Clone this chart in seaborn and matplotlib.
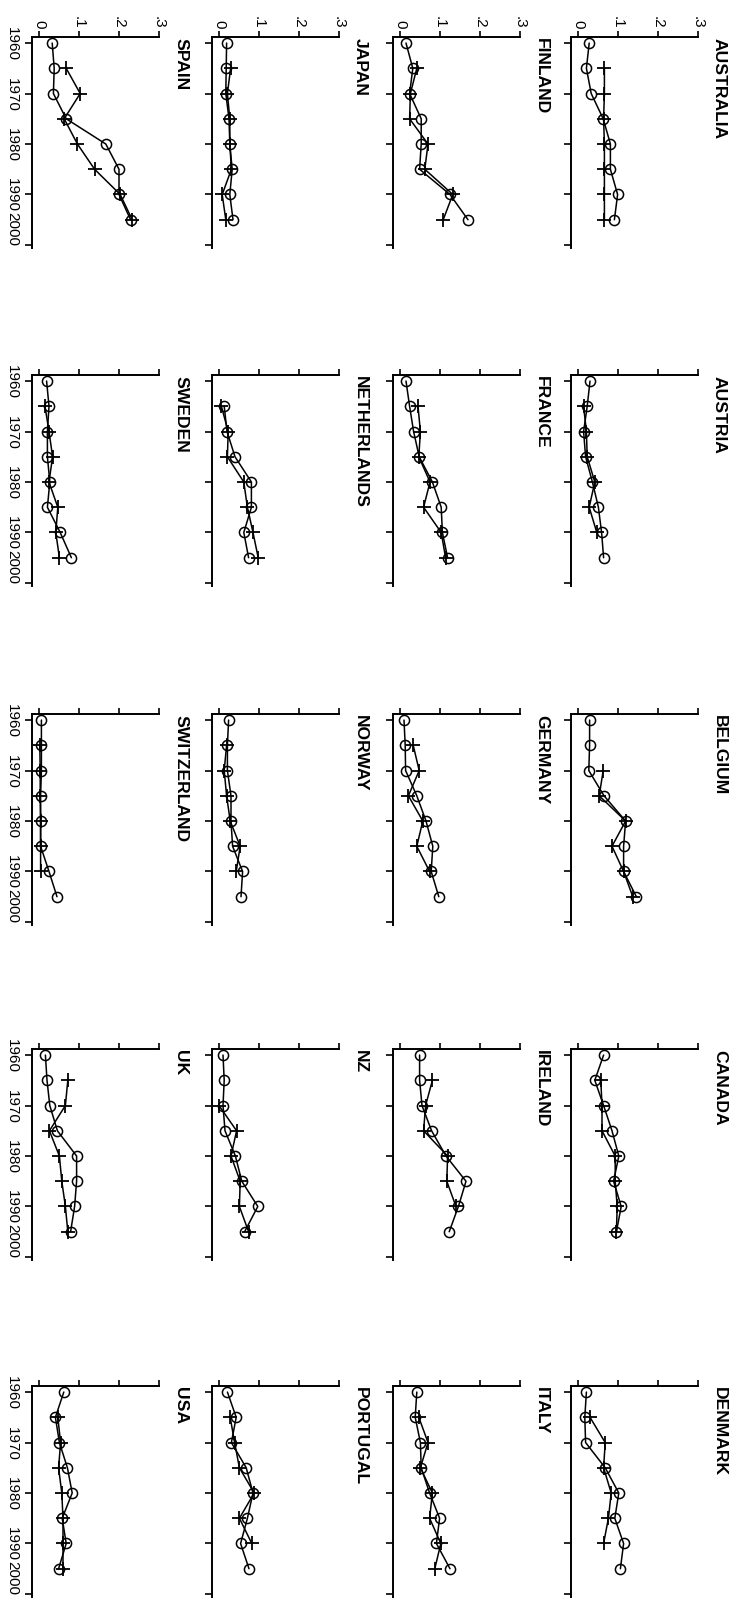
import numpy as np
import pandas as pd
import matplotlib
matplotlib.use("Agg")
import matplotlib.pyplot as plt
import seaborn as sns

# ---------------- data ----------------
countries = ["AUSTRALIA", "AUSTRIA", "BELGIUM", "CANADA", "DENMARK",
             "FINLAND", "FRANCE", "GERMANY", "IRELAND", "ITALY",
             "JAPAN", "NETHERLANDS", "NORWAY", "NZ", "PORTUGAL",
             "SPAIN", "SWEDEN", "SWITZERLAND", "UK", "USA"]

years = [1960, 1965, 1970, 1975, 1980, 1985, 1990, 1995]

circle_series = [
    [.028, .021, .033, .063, .081, .081, .099, .091],   # AUSTRALIA
    [.030, .023, .014, .019, .036, .051, .059, .064],   # AUSTRIA
    [.029, .029, .027, .065, .119, .114, .114, .146],   # BELGIUM
    [.064, .042, .064, .085, .102, .089, .108, .096],   # CANADA
    [.021, .017, .019, .068, .102, .092, .114, .106],   # DENMARK
    [.015, .032, .024, .053, .053, .049, .125, .170],   # FINLAND
    [.015, .024, .034, .048, .081, .103, .106, .119],   # FRANCE
    [.010, .013, .014, .042, .065, .082, .078, .097],   # GERMANY
    [.049, .049, .055, .079, .115, .165, .146, .123],   # IRELAND
    [.042, .038, .051, .053, .074, .099, .091, .125],   # ITALY
    [.019, .018, .017, .025, .027, .033, .027, .035],   # JAPAN
    [None, .013, .020, .040, .081, .081, .062, .074],   # NETHERLANDS
    [.024, .021, .021, .030, .030, .034, .059, .055],   # NORWAY
    [.010, .013, .010, .015, .041, .057, .097, .064],   # NZ
    [.021, .043, .031, .068, .085, .071, .054, .075],   # PORTUGAL
    [.033, .038, .036, .068, .167, .200, .200, .229],   # SPAIN
    [.019, .025, .021, .021, .027, .021, .053, .081],   # SWEDEN
    [.006, .006, .006, .004, .004, .004, .025, .045],   # SWITZERLAND
    [.016, .020, .027, .046, .094, .094, .089, .079],   # UK
    [.062, .041, .051, .071, .083, .058, .068, .049],   # USA
]

plus_series = [
    [None, .066, .066, .064, .066, .066, .066, .066],   # AUSTRALIA
    [None, .014, .021, .023, .042, .028, .047, None],   # AUSTRIA
    [None, None, .063, .053, .119, .085, .114, .137],   # BELGIUM
    [None, .057, .060, .060, .093, .093, .098, .096],   # CANADA
    [None, .030, .068, .064, .083, .076, .064, None],   # DENMARK
    [None, .042, .026, .024, .070, .062, .132, .108],   # FINLAND
    [None, .045, .051, .047, .075, .059, .103, .114],   # FRANCE
    [None, .033, .048, .021, .057, .042, .074, None],   # GERMANY
    [None, .081, .064, .059, .119, .117, .140, None],   # IRELAND
    [None, .047, .070, .051, .081, .074, .102, .087],   # ITALY
    [None, .029, .021, .027, .027, .031, .008, .017],   # JAPAN
    [None, .006, .023, .021, .062, .071, .085, .098],   # NETHERLANDS
    [None, .019, .013, .019, .028, .053, .043, None],   # NORWAY
    [None, None, .000, .044, .030, .053, .051, .074],   # NZ
    [None, .028, .039, .051, .088, .051, .082, None],   # PORTUGAL
    [None, .068, .103, .063, .096, .139, .203, .233],   # SPAIN
    [None, .015, .025, .034, .025, .047, .042, .051],   # SWEDEN
    [None, .002, .003, .003, .004, .004, .004, None],   # SWITZERLAND
    [None, .072, .066, .026, .051, .057, .066, .072],   # UK
    [None, .047, .054, .049, .057, .060, .060, .060],   # USA
]

value_ticks = [0, 0.1, 0.2, 0.3]
value_tick_labels = ["0", ".1", ".2", ".3"]
year_ticks = [1960, 1970, 1980, 1990, 2000]
year_tick_labels = ["1960", "1970", "1980", "1990", "2000"]

# ---------------- style ----------------
sns.set_style("ticks")
plt.rcParams["font.family"] = ["Liberation Sans", "DejaVu Sans"]
plt.rcParams["text.color"] = "black"
plt.rcParams["axes.edgecolor"] = "black"
plt.rcParams["xtick.color"] = "black"
plt.rcParams["ytick.color"] = "black"

W, H = 739, 1606
fig = plt.figure(figsize=(W / 100, H / 100), dpi=100)
fig.patch.set_facecolor("white")

col_left = [32, 212, 393, 571]
row_top = [38, 376, 715, 1050, 1387]
AX_W, AX_H = 127, 211

for i, name in enumerate(countries):
    orow, ocol = divmod(i, 5)
    c = 3 - orow
    r = ocol
    ax = fig.add_axes([col_left[c] / W, 1 - (row_top[r] + AX_H) / H,
                       AX_W / W, AX_H / H])
    ax.set_facecolor("white")

    dfo = pd.DataFrame({"year": years,
                        "value": np.array(circle_series[i], dtype=float)}).dropna()
    dfp = pd.DataFrame({"year": years,
                        "value": np.array(plus_series[i], dtype=float)}).dropna()

    sns.lineplot(data=dfo, x="value", y="year", sort=False, estimator=None,
                 orient="y", ax=ax, color="black", linewidth=1.1,
                 marker="o", markersize=7.3, markerfacecolor="none",
                 markeredgecolor="black", markeredgewidth=1.1)
    sns.lineplot(data=dfp, x="value", y="year", sort=False, estimator=None,
                 orient="y", ax=ax, color="black", linewidth=1.1,
                 marker="+", markersize=10, markeredgecolor="black",
                 markeredgewidth=1.3)

    ax.set_xlim(-0.0175, 0.3)
    ax.set_ylim(2000.6, 1958.8)
    ax.set_xlabel("")
    ax.set_ylabel("")

    for s in ["right", "bottom"]:
        ax.spines[s].set_visible(False)
    for s in ["top", "left"]:
        ax.spines[s].set_linewidth(1.4)
        ax.spines[s].set_color("black")

    ax.xaxis.tick_top()
    ax.set_xticks(value_ticks)
    ax.set_yticks(year_ticks)

    show_val = (ocol == 0)
    show_year = (orow == 3)

    ax.tick_params(axis="x", which="major", direction="out", length=4.5,
                   width=1.2, top=True, bottom=False, labelbottom=False,
                   labeltop=show_val, pad=2)
    ax.tick_params(axis="y", which="major", direction="out", length=5,
                   width=1.2, left=True, right=False, labelright=False,
                   labelleft=show_year, pad=4.5)

    if show_val:
        ax.set_xticklabels(value_tick_labels, rotation=-90, fontsize=11,
                           ha="center", va="bottom")
    if show_year:
        lbls = ax.set_yticklabels(year_tick_labels, rotation=-90, fontsize=11,
                                  ha="right", va="center")
        lbls[-1].set_va("bottom")

    ax.text(1 + 17 / AX_W, 1.0, name, transform=ax.transAxes,
            rotation=-90, rotation_mode="anchor", ha="left", va="baseline",
            fontsize=12.6, fontweight="bold", color="black")

fig.savefig("out.png", dpi=100, facecolor="white")
